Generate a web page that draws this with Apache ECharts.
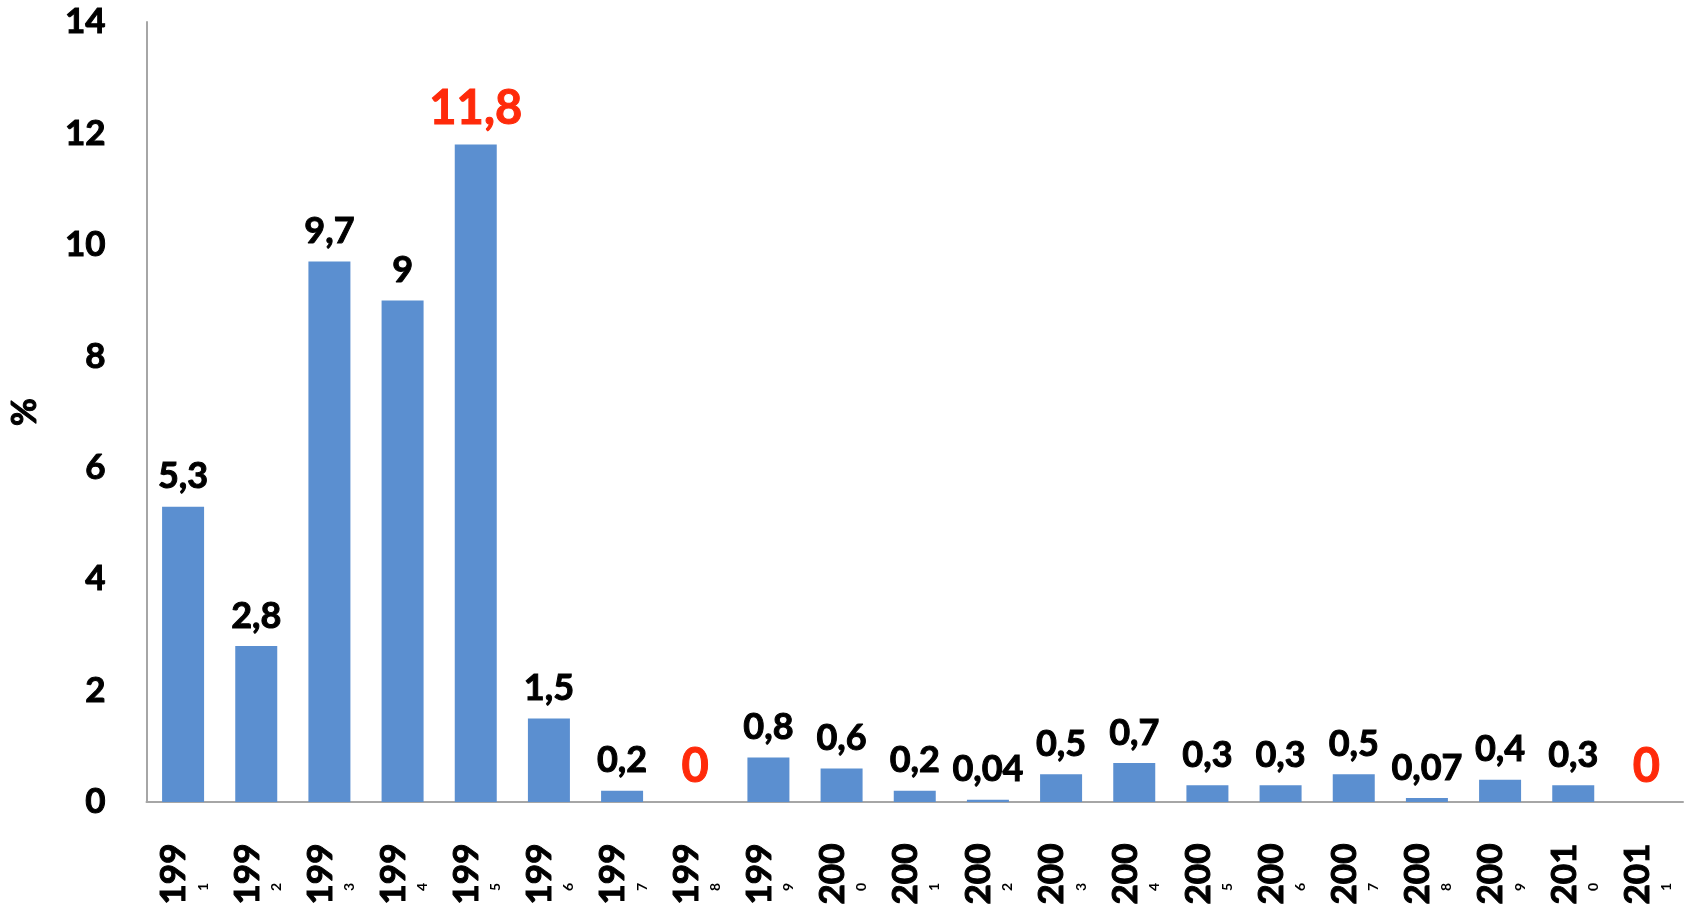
<!DOCTYPE html>
<html>
<head>
<meta charset="utf-8">
<script src="https://cdn.jsdelivr.net/npm/echarts@6/dist/echarts.min.js"></script>
<style>
  html, body { margin: 0; padding: 0; background: #ffffff; }
  #chart { width: 1684px; height: 911px; }
</style>
</head>
<body>
<div id="chart"></div>
<script>
// ---- data ----
const years = ['1991','1992','1993','1994','1995','1996','1997','1998','1999','2000',
               '2001','2002','2003','2004','2005','2006','2007','2008','2009','2010','2011'];
const values = [5.3, 2.8, 9.7, 9, 11.8, 1.5, 0.2, 0, 0.8, 0.6,
                0.2, 0.04, 0.5, 0.7, 0.3, 0.3, 0.5, 0.07, 0.4, 0.3, 0];
const highlighted = ['1995', '1998', '2011'];
const yTicks = { min: 0, max: 14, interval: 2 };
const yName = '%';

const FONT = 'Lato';
const heavy = (color) => ({ textBorderColor: color, textBorderWidth: 1 });

const seriesData = years.map((y, i) => {
  const item = { value: values[i] };
  if (highlighted.includes(y)) {
    item.label = Object.assign({ color: '#ff2a0a', fontSize: 47 }, heavy('#ff2a0a'));
  }
  return item;
});

const chart = echarts.init(document.getElementById('chart'));
chart.setOption({
  animation: false,
  backgroundColor: '#ffffff',
  grid: { left: 139, right: 1, top: 22, bottom: 109 },
  xAxis: {
    type: 'category',
    data: years,
    axisLine: { show: true, lineStyle: { color: '#a6a6a6', width: 2 } },
    axisTick: { show: false },
    axisLabel: {
      interval: 0,
      rotate: 90,
      margin: 72,
      align: 'center',
      verticalAlign: 'middle',
      formatter: v => '{a|' + v.slice(0, 3) + '}\n{b|' + v.slice(3) + '}',
      rich: {
        a: Object.assign({ fontFamily: FONT, fontWeight: 'bold', fontSize: 35, lineHeight: 40, color: '#000' }, heavy('#000')),
        b: { fontFamily: FONT, fontWeight: 'bold', fontSize: 14, lineHeight: 18, color: '#000', padding: [0, 26, 0, 0] }
      }
    }
  },
  yAxis: {
    type: 'value',
    min: yTicks.min,
    max: yTicks.max,
    interval: yTicks.interval,
    name: yName,
    nameLocation: 'middle',
    nameGap: 104,
    nameTextStyle: Object.assign({ fontFamily: FONT, fontWeight: 'bold', fontSize: 34, color: '#000' }, heavy('#000')),
    axisLine: { show: true, lineStyle: { color: '#a6a6a6', width: 2 } },
    axisTick: { show: false },
    splitLine: { show: false },
    axisLabel: Object.assign({
      margin: 41,
      fontFamily: FONT, fontWeight: 'bold', fontSize: 35, color: '#000'
    }, heavy('#000'))
  },
  series: [{
    type: 'bar',
    data: seriesData,
    barWidth: 42,
    itemStyle: { color: '#5b8fd0' },
    label: Object.assign({
      show: true,
      position: 'top',
      distance: 12,
      fontFamily: FONT,
      fontWeight: 'bold',
      fontSize: 36,
      color: '#000',
      formatter: p => String(p.value).replace('.', ',')
    }, heavy('#000'))
  }]
});
</script>
</body>
</html>
